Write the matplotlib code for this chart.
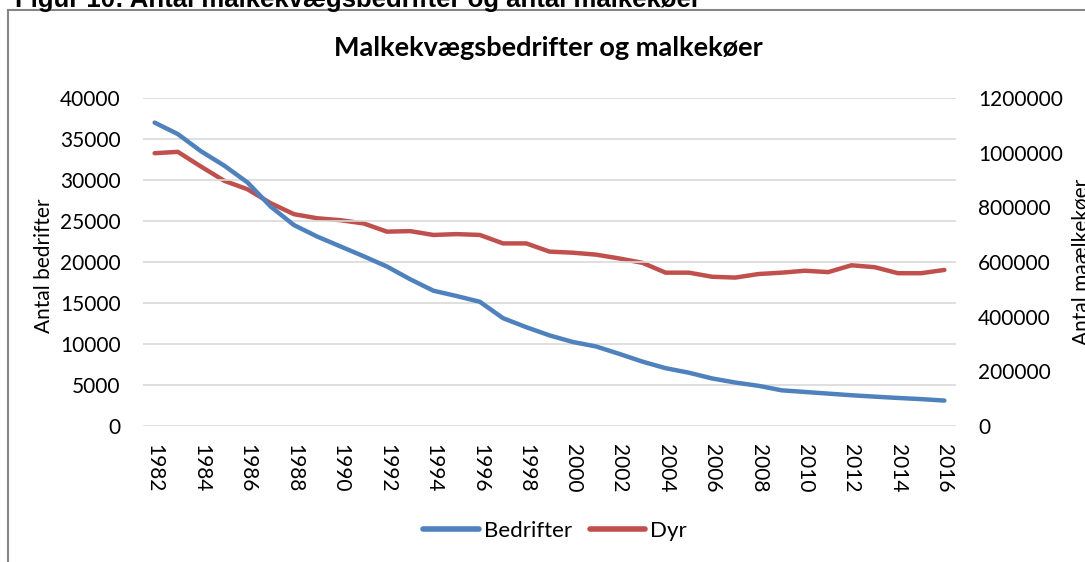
import matplotlib
matplotlib.use("Agg")
import matplotlib.pyplot as plt
from matplotlib.patches import Rectangle
from matplotlib.lines import Line2D

years = list(range(1982, 2017))
bedrifter = [37000, 35600, 33500, 31750, 29700, 26750, 24500, 23100, 21900, 20700,
             19450, 17900, 16500, 15850, 15150, 13150, 12050, 11050, 10250, 9700,
             8800, 7850, 7050, 6500, 5800, 5300, 4900, 4350, 4150, 3950,
             3750, 3580, 3420, 3280, 3100]
dyr = [998000, 1003000, 949000, 897000, 866000, 815000, 775000, 760000, 753000, 741000,
       711000, 713000, 699000, 702000, 699000, 668000, 668000, 638000, 634000, 627000,
       613000, 597000, 561000, 561000, 546000, 543000, 556000, 561000, 568000, 563000,
       588000, 581000, 559000, 559000, 571000]
xtick_years = list(range(1982, 2017, 2))
left_ticks = list(range(0, 40001, 5000))
right_ticks = list(range(0, 1200001, 200000))

FONT = "Lato"
W, H = 1085, 562
fig = plt.figure(figsize=(W / 100, H / 100), dpi=100)

def fx(px):
    return px / W

def fy(py):
    return 1 - py / H

# outer border of chart area
fig.patches.append(Rectangle((fx(8), fy(600)), fx(1100) - fx(8), fy(10) - fy(600),
                             transform=fig.transFigure, fill=False,
                             edgecolor="#868686", linewidth=1.5, zorder=0))

# cut-off caption on top
fig.text(fx(15), fy(7), "Figur 10: Antal malkekvægsbedrifter og antal malkekøer",
         fontsize=18.5, fontweight="bold", family="Liberation Sans",
         ha="left", va="baseline")

ax_l, ax_r, ax_t, ax_b = 143, 956, 98, 426
ax = fig.add_axes([fx(ax_l), fy(ax_b), fx(ax_r) - fx(ax_l), fy(ax_t) - fy(ax_b)])
ax2 = ax.twinx()

blue = "#4F81BD"
red = "#C0504D"

ax.plot(years, bedrifter, color=blue, linewidth=3.2, solid_capstyle="round",
        solid_joinstyle="round", zorder=3)
ax2.plot(years, dyr, color=red, linewidth=3.2, solid_capstyle="round",
         solid_joinstyle="round", zorder=3)

ax.set_xlim(1981.5, 2016.5)
ax.set_ylim(0, 40000)
ax2.set_ylim(0, 1200000)
ax.set_yticks(left_ticks)
ax.set_yticklabels([str(v) for v in left_ticks])
ax2.set_yticks(right_ticks)
ax2.set_yticklabels([str(v) for v in right_ticks])
ax.set_xticks(xtick_years)
ax.set_xticklabels([str(y) for y in xtick_years], rotation=270)

ax.grid(axis="y", color="#D9D9D9", linewidth=1.2)
ax.set_axisbelow(True)
for a in (ax, ax2):
    for s in a.spines.values():
        s.set_visible(False)
    a.tick_params(length=0)

ax.tick_params(axis="y", labelsize=15, pad=16)
ax.tick_params(axis="x", labelsize=15, pad=13)
ax2.tick_params(axis="y", labelsize=15, pad=16)
for lab in ax.get_xticklabels() + ax.get_yticklabels() + ax2.get_yticklabels():
    lab.set_family(FONT)

ax2.patch.set_visible(False)
ax.set_zorder(ax2.get_zorder() + 1)
ax.patch.set_visible(False)

fig.text(fx(44), fy(266), "Antal bedrifter", rotation=90, fontsize=15, family=FONT,
         ha="center", va="center")
fig.text(fx(1081), fy(262), "Antal maælkekøer", rotation=90, fontsize=15, family=FONT,
         ha="center", va="center")

fig.text(fx(548), fy(48), "Malkekvægsbedrifter og malkekøer", fontsize=19.5,
         fontweight="bold", family=FONT, ha="center", va="center")

handles = [Line2D([], [], color=blue, linewidth=4, solid_capstyle="round"),
           Line2D([], [], color=red, linewidth=4, solid_capstyle="round")]
fig.legend(handles, ["Bedrifter", "Dyr"], loc="center", bbox_to_anchor=(fx(555), fy(531)),
           ncol=2, frameon=False, prop={"family": FONT, "size": 16},
           handlelength=2.5, handletextpad=0.22, columnspacing=0.8)

fig.savefig("out.png", dpi=100)
